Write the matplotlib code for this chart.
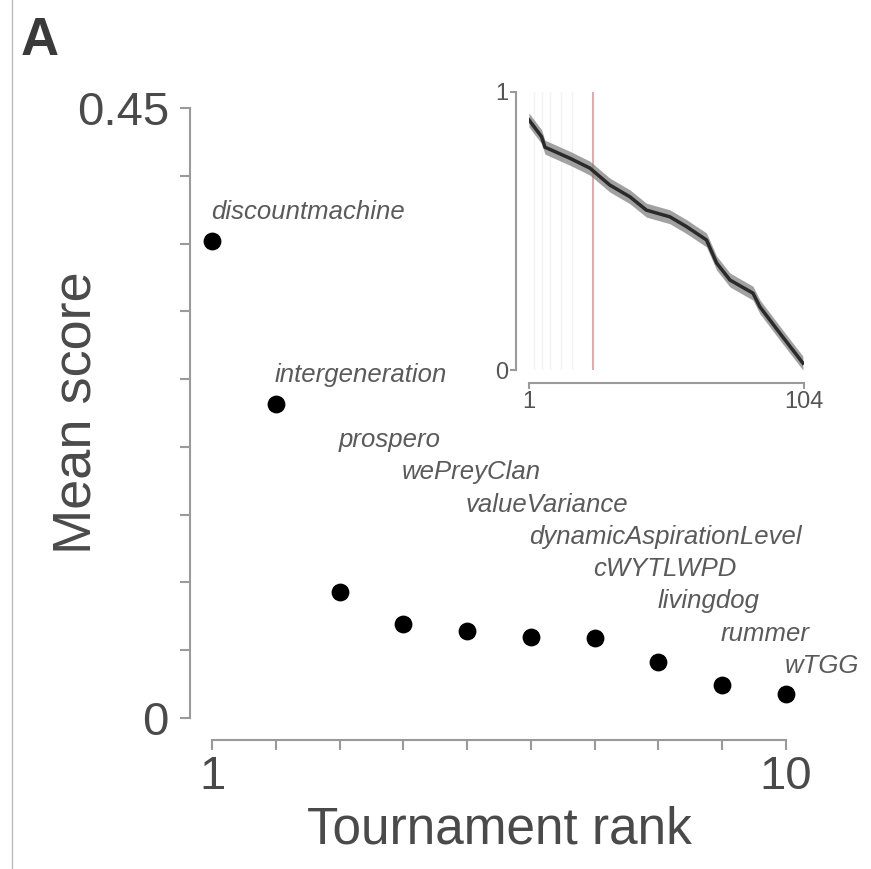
import matplotlib
matplotlib.use("Agg")
import matplotlib.pyplot as plt
from matplotlib.lines import Line2D
import numpy as np

plt.rcParams["font.family"] = ["Liberation Sans", "DejaVu Sans"]

# main panel data
ranks = [1, 2, 3, 4, 5, 6, 7, 8, 9, 10]
mean_score = [0.352, 0.232, 0.093, 0.069, 0.064, 0.060, 0.059, 0.041, 0.024, 0.018]
names = ["discountmachine", "intergeneration", "prospero", "wePreyClan",
         "valueVariance", "dynamicAspirationLevel", "cWYTLWPD", "livingdog",
         "rummer", "wTGG"]

# inset data (normalised score vs rank)
inset_rank = [1, 5.7, 7, 16.4, 23.8, 31.3, 38.8, 45, 53.8, 60, 67.5, 71.3,
              76.3, 84.9, 87.5, 95, 103.6]
inset_score = [0.898, 0.838, 0.80, 0.76, 0.725, 0.664, 0.622, 0.574, 0.55,
               0.515, 0.467, 0.384, 0.323, 0.276, 0.227, 0.132, 0.025]
inset_err = 0.025
marked_rank = 25
faint_ranks = [3, 6, 9, 13, 17]

grey = "#9a9a9a"
txt = "#4a4a4a"

fig = plt.figure(figsize=(8.71, 8.69), dpi=100)
ax = fig.add_axes([0.2434, 0.1738, 0.6590, 0.7019])

ax.scatter(ranks, mean_score, s=140, color="black", zorder=3, clip_on=False)

# labels: first two sit above their dot, the rest form a staircase
for i, (r, v, n) in enumerate(zip(ranks, mean_score, names)):
    if i < 2:
        ly = v + 0.021
    else:
        ly = 0.205 - 0.0238 * (i - 2)
    ax.text(r - 0.02, ly, n, fontsize=18.5, style="italic", color="#5a5a5a",
            ha="left", va="center", clip_on=False)

ax.set_xlim(1, 10)
ax.set_ylim(0, 0.45)
ax.set_xticks(ranks)
ax.set_xticklabels(["1"] + [""] * 8 + ["10"])
ax.set_yticks(np.arange(10) * 0.05)
ax.set_yticklabels(["0"] + [""] * 8 + ["0.45"])
for s in ["top", "right"]:
    ax.spines[s].set_visible(False)
for s in ["left", "bottom"]:
    ax.spines[s].set_position(("outward", 16))
    ax.spines[s].set_color(grey)
    ax.spines[s].set_linewidth(1.5)
ax.tick_params(colors=grey, width=1.5, length=7, labelsize=34,
               labelcolor=txt, pad=4)
ax.tick_params(axis="y", pad=8)
ax.set_xlabel("Tournament rank", fontsize=37, color=txt, labelpad=4)
ax.set_ylabel("Mean score", fontsize=39, color=txt, labelpad=-18)
ax.patch.set_alpha(0)

# inset
ins = fig.add_axes([0.6073, 0.5742, 0.3157, 0.3205])
for r in faint_ranks:
    ins.axvline(r, color="#f3f3f3", lw=1, zorder=0)
ins.axvline(marked_rank, color="#e8a0a0", lw=1.3, zorder=1)
lo = [v - inset_err for v in inset_score]
hi = [v + inset_err for v in inset_score]
ins.fill_between(inset_rank, lo, hi, color="#7a7a7a", alpha=0.7, lw=0, zorder=2)
ins.plot(inset_rank, inset_score, color="#2a2a2a", lw=2.5, zorder=3)
ins.set_xlim(1, 104)
ins.set_ylim(0, 1)
ins.set_xticks([1, 104])
ins.set_yticks([0, 1])
for s in ["top", "right"]:
    ins.spines[s].set_visible(False)
for s in ["left", "bottom"]:
    ins.spines[s].set_position(("outward", 9))
    ins.spines[s].set_color(grey)
    ins.spines[s].set_linewidth(1.5)
ins.tick_params(colors=grey, width=1.5, length=4, labelsize=17,
                labelcolor="#555555", pad=2)
ins.patch.set_alpha(0)

fig.text(0.024, 0.937, "A", fontsize=38, fontweight="bold", color="#3a3a3a")
fig.add_artist(Line2D([0.014, 0.014], [0, 1], color="#bbbbbb", lw=1,
                      transform=fig.transFigure))

fig.savefig("out.png", dpi=100)
